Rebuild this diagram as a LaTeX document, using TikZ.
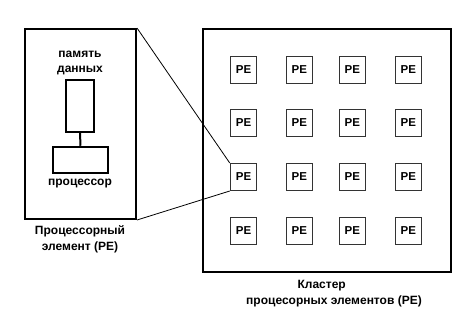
\documentclass[tikz,border=0pt]{standalone}
\usepackage{fontspec}
\setmainfont{Liberation Sans}
\begin{document}
\begin{tikzpicture}[x=1pt,y=-1pt,
  thickbox/.style={draw=black,line width=2pt},
  pebox/.style={draw=black!80,line width=1pt,minimum width=26.5pt,minimum height=27pt,inner sep=0pt,font=\fontsize{11.5}{12}\selectfont\bfseries},
  lbl/.style={font=\fontsize{12}{15.5}\selectfont\bfseries,align=center,inner sep=0pt},
  zoomline/.style={draw=black,line width=0.8pt}]
\useasboundingbox (0,0) rectangle (472,325);
% PE detail box
\node[thickbox,minimum width=111pt,minimum height=190pt,inner sep=0pt] (pe) at (80.5,124) {};
\node[lbl] (mem) at (80,63) {память\\данных};
\node[thickbox,minimum width=28pt,minimum height=52pt,inner sep=0pt] (memr) at (80,106) {};
\node[thickbox,minimum width=55.5pt,minimum height=26.5pt,inner sep=0pt] (proc) at (80.5,160) {};
\node[lbl] (proct) at (80,184) {процессор};
\draw[line width=2pt] (memr.south) -- (proc.north);
\node[lbl] (pelbl) at (80,239.5) {Процессорный\\элемент (PE)};
% cluster
\node[thickbox,minimum width=247.5pt,minimum height=242.5pt,inner sep=0pt] (cl) at (327,150.5) {};
\foreach \c/\x in {1/243.5,2/299.3,3/352.3,4/408.3}{
  \foreach \r/\y in {1/70,2/122.5,3/177,4/230.7}{
    \node[pebox] (p\r\c) at (\x,\y) {PE};
  }
}
\node[lbl] (cllbl1) at (321.7,285.7) {Кластер};
\node[lbl] (cllbl2) at (334,301) {процесорных элементов (PE)};
% zoom lines
\draw[zoomline] (pe.north east) -- (p31.north west);
\draw[zoomline] (pe.south east) -- (p31.south west);
\end{tikzpicture}
\end{document}
